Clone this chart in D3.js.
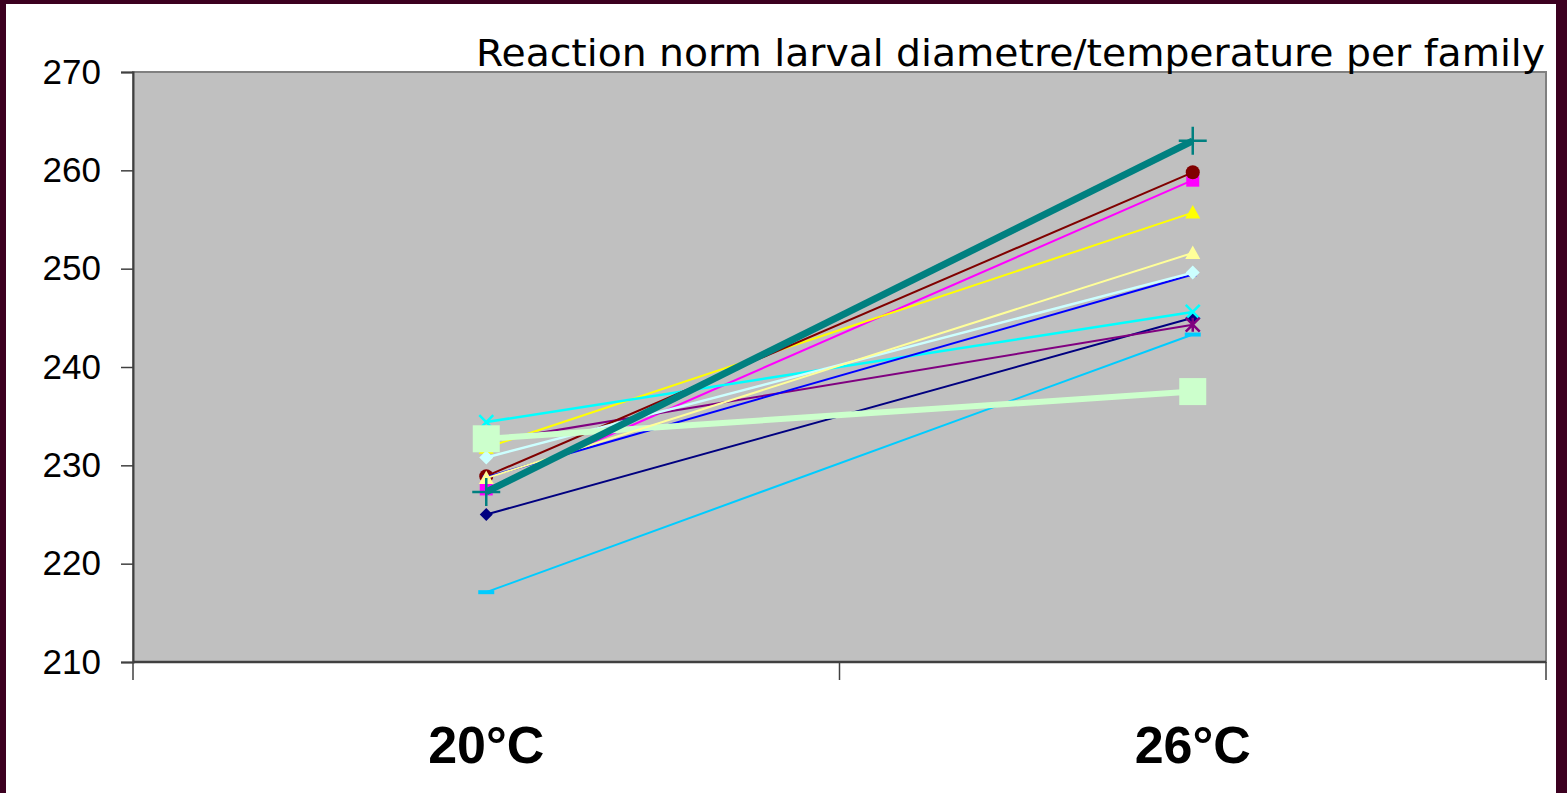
<!DOCTYPE html>
<html>
<head>
<meta charset="utf-8">
<script src="https://cdn.jsdelivr.net/npm/d3@7"></script>
<style>
  html, body { margin: 0; padding: 0; background: #3c0020; }
  #chart { position: absolute; left: 0; top: 0; }
</style>
</head>
<body>
<div id="chart"></div>
<script>
// categories & tick labels
const categories = ['20°C', '26°C'];
const yTicks = [210, 220, 230, 240, 250, 260, 270];
const title = 'Reaction norm larval diametre/temperature per family';

// one series per family: [20°C, 26°C]
const navyDiamond = [225.0, 245.0];
const magentaSquare = [227.6, 259.0];
const yellowTriangle = [231.8, 255.7];
const cyanCross = [234.4, 245.6];
const purpleStar = [232.4, 244.3];
const maroonCircle = [228.9, 259.8];
const blueDash = [228.8, 249.4];
const skyBar = [217.1, 243.3];
const paleCyanDiamond = [230.8, 249.6];
const paleGreenSquare = [232.7, 237.5];
const paleYellowTriangle = [228.7, 251.6];
const tealPlus = [227.3, 263.0];

const series = [
  { values: navyDiamond, color: '#000080', marker: 'diamond', w: 2, size: 13 },
  { values: magentaSquare, color: '#ff00ff', marker: 'square', w: 2, size: 13 },
  { values: yellowTriangle, color: '#ffff00', marker: 'triangle', w: 2, size: 15 },
  { values: cyanCross, color: '#00ffff', marker: 'x', w: 2.5, size: 14 },
  { values: purpleStar, color: '#800080', marker: 'star', w: 2, size: 14 },
  { values: maroonCircle, color: '#800000', marker: 'circle', w: 2, size: 14 },
  { values: blueDash, color: '#0000ff', marker: 'dash', w: 2, size: 12 },
  { values: skyBar, color: '#00ccff', marker: 'bar', w: 2, size: 16 },
  { values: paleCyanDiamond, color: '#ccffff', marker: 'diamond', w: 2.5, size: 14 },
  { values: paleGreenSquare, color: '#ccffcc', marker: 'square', w: 6, size: 27 },
  { values: paleYellowTriangle, color: '#ffff99', marker: 'triangle', w: 2, size: 15 },
  { values: tealPlus, color: '#008080', marker: 'plus', w: 7, size: 28 }
];

const W = 1567, H = 793;
const plot = { left: 133, right: 1546, top: 72, bottom: 662 };

const svg = d3.select('#chart').append('svg')
  .attr('width', W).attr('height', H);

// white slide area inside the maroon frame
svg.append('rect').attr('x', 0).attr('y', 0).attr('width', W).attr('height', H).attr('fill', '#3c0020');
svg.append('rect').attr('x', 6).attr('y', 4).attr('width', 1550).attr('height', H - 4).attr('fill', '#ffffff');

const x = d3.scaleBand().domain(categories).range([plot.left, plot.right]);
const y = d3.scaleLinear().domain([210, 270]).range([plot.bottom, plot.top]);

// plot area
svg.append('rect')
  .attr('x', plot.left).attr('y', plot.top)
  .attr('width', plot.right - plot.left).attr('height', plot.bottom - plot.top)
  .attr('fill', '#c0c0c0').attr('stroke', '#808080').attr('stroke-width', 2);

// y axis
const yAxis = svg.append('g')
  .attr('transform', `translate(${plot.left},0)`)
  .call(d3.axisLeft(y).tickValues(yTicks).tickSize(12).tickPadding(20));
yAxis.select('.domain').attr('stroke', '#404040').attr('stroke-width', 2);
yAxis.selectAll('.tick line').attr('stroke', '#404040').attr('stroke-width', 1.5);
yAxis.selectAll('.tick text')
  .attr('font-family', 'Arial, "Liberation Sans", sans-serif')
  .attr('font-size', 35).attr('fill', '#000');

// x axis: ticks at category boundaries
const xAxis = svg.append('g').attr('transform', `translate(0,${plot.bottom})`);
xAxis.append('line').attr('x1', plot.left).attr('x2', plot.right)
  .attr('stroke', '#404040').attr('stroke-width', 2.5);
const bounds = categories.map(c => x(c)).concat([x(categories[categories.length - 1]) + x.bandwidth()]);
xAxis.selectAll('line.tk').data(bounds).enter().append('line')
  .attr('class', 'tk')
  .attr('x1', d => d).attr('x2', d => d).attr('y1', 0).attr('y2', 18)
  .attr('stroke', '#404040').attr('stroke-width', 1.5);
xAxis.selectAll('text').data(categories).enter().append('text')
  .attr('x', d => x(d) + x.bandwidth() / 2).attr('y', 101)
  .attr('text-anchor', 'middle')
  .attr('font-family', 'Arial, "Liberation Sans", sans-serif')
  .attr('font-weight', 'bold').attr('font-size', 52)
  .text(d => d);

// title
svg.append('text')
  .attr('x', 1545).attr('y', 66)
  .attr('text-anchor', 'end')
  .attr('font-family', '"Comic Sans MS", "DejaVu Sans", sans-serif')
  .attr('font-size', 38)
  .attr('textLength', 1069).attr('lengthAdjust', 'spacingAndGlyphs')
  .text(title);

function markerPath(type, s) {
  const h = s / 2;
  switch (type) {
    case 'diamond': return `M0,${-h}L${h},0L0,${h}L${-h},0Z`;
    case 'square': return `M${-h},${-h}H${h}V${h}H${-h}Z`;
    case 'triangle': return `M0,${-h}L${h},${h * 0.8}L${-h},${h * 0.8}Z`;
    case 'circle': return d3.symbol(d3.symbolCircle, Math.PI * h * h)();
    case 'dash': return `M${-h * 0.6},${-2}H${h * 0.6}V2H${-h * 0.6}Z`;
    case 'bar': return `M${-h},${-2}H${h}V2H${-h}Z`;
    default: return '';
  }
}

const cx = d => x(d) + x.bandwidth() / 2;
const line = d3.line().x(d => cx(d.cat)).y(d => y(d.v));

series.forEach(s => {
  const pts = categories.map((c, i) => ({ cat: c, v: s.values[i] }));
  const g = svg.append('g');
  g.append('path').datum(pts).attr('d', line)
    .attr('fill', 'none').attr('stroke', s.color).attr('stroke-width', s.w);
  const m = g.selectAll('g.m').data(pts).enter().append('g')
    .attr('transform', d => `translate(${cx(d.cat)},${y(d.v)})`);
  const h = s.size / 2;
  if (s.marker === 'x') {
    m.append('path').attr('d', `M${-h},${-h}L${h},${h}M${h},${-h}L${-h},${h}`)
      .attr('stroke', s.color).attr('stroke-width', 2.5).attr('fill', 'none');
  } else if (s.marker === 'star') {
    m.append('path').attr('d', `M${-h},${-h}L${h},${h}M${h},${-h}L${-h},${h}M0,${-h}V${h}`)
      .attr('stroke', s.color).attr('stroke-width', 2.5).attr('fill', 'none');
  } else if (s.marker === 'plus') {
    m.append('path').attr('d', `M${-h},0H${h}M0,${-h}V${h}`)
      .attr('stroke', s.color).attr('stroke-width', 2.5).attr('fill', 'none');
  } else {
    m.append('path').attr('d', markerPath(s.marker, s.size)).attr('fill', s.color);
  }
});
</script>
</body>
</html>
